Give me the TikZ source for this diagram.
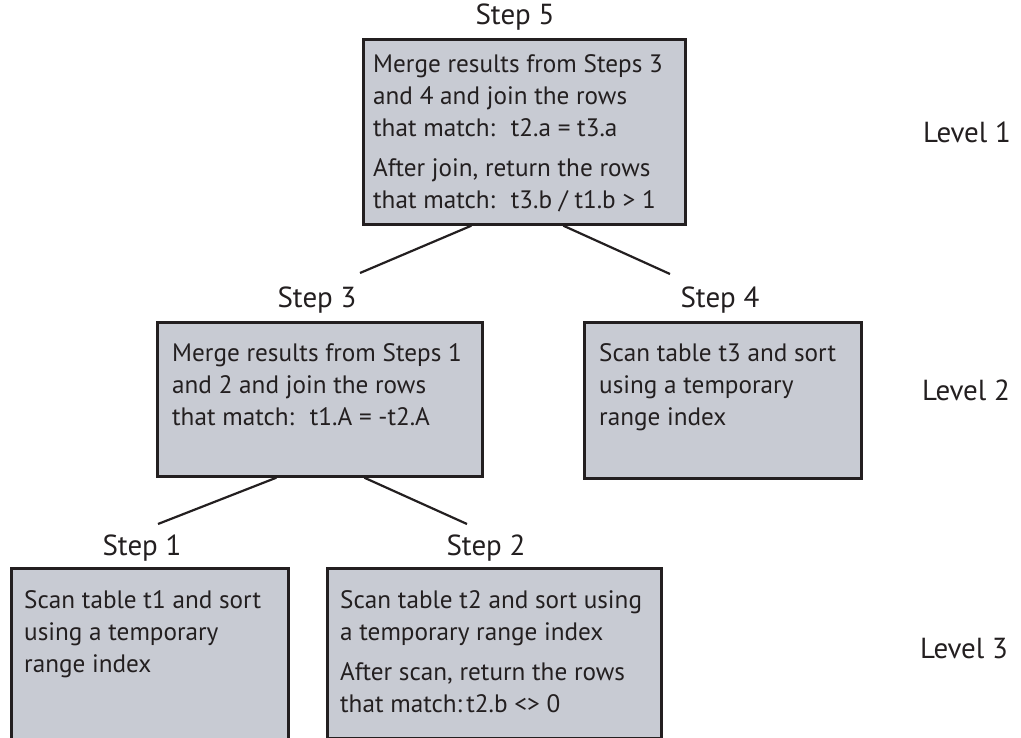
\documentclass[tikz,border=0pt]{standalone}
\usepackage{fontspec}
\setmainfont{PT Sans}
\definecolor{boxfill}{RGB}{200,203,211}
\definecolor{edge}{RGB}{35,31,32}
\definecolor{ink}{RGB}{35,31,32}
\newcommand{\boxtext}[1]{\parbox[t]{400pt}{\fontsize{25.2}{32}\selectfont\raggedright #1}}
\begin{document}
\begin{tikzpicture}[x=1pt,y=-1pt,
  box/.style={draw=edge, fill=boxfill, line width=2.7pt, inner sep=0pt, anchor=north west},
  txt/.style={anchor=base west, inner sep=0pt, text=ink},
  lbl/.style={inner sep=0pt, font=\fontsize{29}{34}\selectfont, text=ink},
  link/.style={draw=edge, line width=2.2pt}]
\useasboundingbox (0,0) rectangle (1021,738);

% boxes
\node[box, minimum width=322pt, minimum height=185pt] (b5) at (362,38) {};
\node[box, minimum width=325pt, minimum height=154pt] (b3) at (156,321) {};
\node[box, minimum width=277pt, minimum height=156pt] (b4) at (583,321) {};
\node[box, minimum width=277pt, minimum height=190pt] (b1) at (10,567) {};
\node[box, minimum width=334pt, minimum height=170pt] (b2) at (326,567) {};

% box texts
\node[txt] (t5) at (373,73) {\boxtext{Merge results from Steps 3\\and 4 and join the rows\\that match:~ t2.a = t3.a\\[8pt]After join, return the rows\\that match:~ t3.b / t1.b > 1}};
\node[txt] (t3) at (172,362) {\boxtext{Merge results from Steps 1\\and 2 and join the rows\\that match:~ t1.A = -t2.A}};
\node[txt] (t4) at (599,362) {\boxtext{Scan table t3 and sort\\using a temporary\\range index}};
\node[txt] (t1) at (24,608) {\boxtext{Scan table t1 and sort\\using a temporary\\range index}};
\node[txt] (t2) at (340,608) {\boxtext{Scan table t2 and sort using\\a temporary range index\\[8pt]After scan, return the rows\\that match:\,t2.b <> 0}};

% step labels
\node[lbl] (s5) at (515,17) {Step 5};
\node[lbl] (s3) at (317,300) {Step 3};
\node[lbl] (s4) at (720,300) {Step 4};
\node[lbl] (s1) at (142,548) {Step 1};
\node[lbl] (s2) at (486,548) {Step 2};

% level labels
\node[lbl, anchor=west] (l1) at (923,132) {Level 1};
\node[lbl, anchor=west] (l2) at (922,390) {Level 2};
\node[lbl, anchor=west] (l3) at (920,649) {Level 3};

% connector ends
\coordinate (e53) at (360,273);
\coordinate (e54) at (670,274);
\coordinate (e31) at (158,524);
\coordinate (e32) at (467,524);

\draw[link] ([xshift=-53pt]b5.south) -- (e53);
\draw[link] ([xshift=39pt]b5.south) -- (e54);
\draw[link] ([xshift=-43.5pt]b3.south) -- (e31);
\draw[link] ([xshift=44.5pt]b3.south) -- (e32);
\end{tikzpicture}
\end{document}
